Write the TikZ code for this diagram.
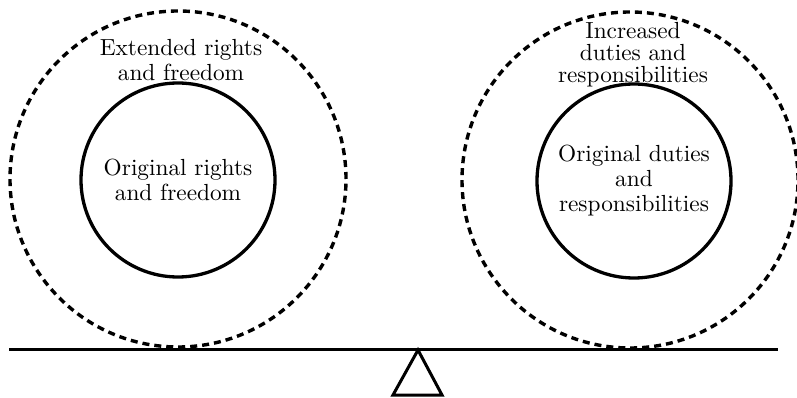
\documentclass[tikz,border=0pt]{standalone}
\usepackage{fontspec}
\setmainfont{lmroman10-regular.otf}
\usetikzlibrary{positioning}

\begin{document}
\begin{tikzpicture}[x=1pt,y=-1pt,
    ring/.style={circle,draw,line width=3.3pt,minimum size=194pt,inner sep=0pt,
                 align=center,font=\fontsize{23.3}{25}\selectfont},
    halo/.style={circle,draw,dash pattern=on 7pt off 5pt,line width=3.4pt,
                 minimum size=336pt,inner sep=0pt},
    caption/.style={align=center,inner sep=0pt,font=\fontsize{23.3}{24.5}\selectfont}]
\useasboundingbox (0,0) rectangle (797,398);

% left pan
\node[halo] (rightsOut) at (178,179) {};
\node[ring] (rightsIn) at (178,180) {Original rights\\and freedom};
\node[caption] (rightsCap) at (181,60) {Extended rights\\and freedom};

% right pan
\node[halo] (dutiesOut) at (630,180) {};
\node[ring] (dutiesIn) at (634,181) {Original duties\\and\\responsibilities};
\node[caption,font=\fontsize{23.3}{22}\selectfont] (dutiesCap) at (633,55)
    {Increased\\duties and\\responsibilities};

% beam and fulcrum
\coordinate (beamL) at (9,349);
\coordinate (beamR) at (778,349);
\coordinate (apex) at (418,350);
\coordinate (baseL) at (393,395);
\coordinate (baseR) at (442,395);
\draw[line width=3pt] (beamL) -- (beamR);
\draw[line width=3pt] (apex) -- (baseL) -- (baseR) -- cycle;
\end{tikzpicture}
\end{document}
